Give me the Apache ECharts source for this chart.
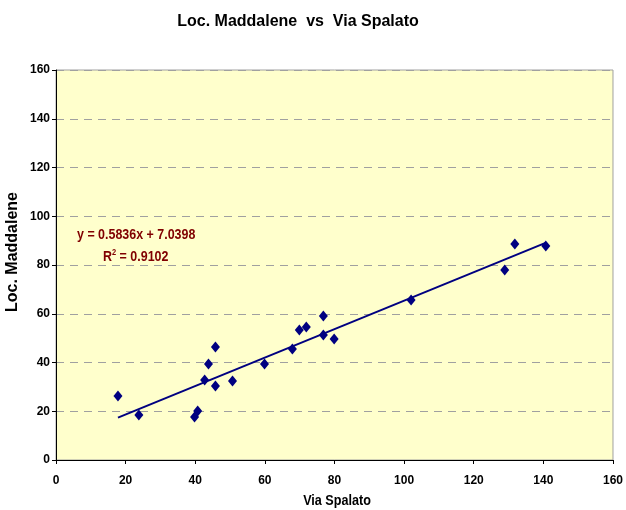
<!DOCTYPE html>
<html>
<head>
<meta charset="utf-8">
<script src="https://cdn.jsdelivr.net/npm/echarts@6/dist/echarts.min.js"></script>
<style>html,body{margin:0;padding:0;background:#fff}#c{width:626px;height:510px}</style>
</head>
<body>
<div id="c"></div>
<script>
var viaSpalato = [17.8, 23.8, 39.8, 40.7, 42.7, 43.8, 45.8, 45.8, 50.7, 59.9, 67.9, 69.9, 71.9, 76.8, 76.8, 79.9, 102.0, 128.9, 131.8, 140.7];
var locMaddalene = [26.3, 18.5, 17.6, 20.1, 32.8, 39.4, 46.4, 30.4, 32.4, 39.4, 45.5, 53.3, 54.6, 59.1, 51.3, 49.6, 65.6, 77.9, 88.6, 87.8];
var trendX = [17.8, 140.8];
var trendY = [17.4, 89.2];
var equationText = 'y = 0.5836x + 7.0398';
var r2Text = '0.9102';
var titleText = 'Loc. Maddalene  vs  Via Spalato';
var xName = 'Via Spalato';
var yName = 'Loc. Maddalene';

var FONT = '"Liberation Sans", Arial, sans-serif';
var points = viaSpalato.map(function (x, i) { return [x, locMaddalene[i]]; });
var trend = trendX.map(function (x, i) { return [x, trendY[i]]; });

var chart = echarts.init(document.getElementById('c'), null, {renderer: 'canvas'});
chart.setOption({
  animation: false,
  backgroundColor: '#ffffff',
  grid: {
    left: 56, right: 10, top: 70, bottom: 50, show: true,
    backgroundColor: '#FFFFCC', borderColor: '#A0A0A0', borderWidth: 1
  },
  xAxis: {
    type: 'value', min: 0, max: 160, interval: 20,
    axisLine: {show: true, onZero: false, lineStyle: {color: '#000', width: 1}},
    axisTick: {show: true, inside: false, length: 4, lineStyle: {color: '#000'}},
    axisLabel: {fontFamily: FONT, fontSize: 12, fontWeight: 'bold', color: '#000', margin: 15},
    splitLine: {show: false}
  },
  yAxis: {
    type: 'value', min: 0, max: 160, interval: 20,
    axisLine: {show: true, onZero: false, lineStyle: {color: '#000', width: 1}},
    axisTick: {show: true, inside: false, length: 4, lineStyle: {color: '#000'}},
    axisLabel: {fontFamily: FONT, fontSize: 12, fontWeight: 'bold', color: '#000', margin: 6},
    splitLine: {show: true, lineStyle: {color: '#A0A0A0', type: [8, 6], width: 1}}
  },
  series: [
    {
      type: 'line', data: trend, symbol: 'none', silent: true,
      lineStyle: {color: '#000080', width: 2}, z: 2
    },
    {
      type: 'scatter', data: points, symbol: 'diamond', symbolSize: [9, 11],
      itemStyle: {color: '#000080', opacity: 1}, z: 3
    }
  ],
  graphic: [
    {
      type: 'text', x: 298, y: 22,
      style: {text: titleText, fontFamily: FONT, fontSize: 16, fontWeight: 'bold', fill: '#000', align: 'center', verticalAlign: 'middle'}
    },
    {
      type: 'text', x: 13, y: 252, rotation: Math.PI / 2,
      style: {text: yName, fontFamily: FONT, fontSize: 16, fontWeight: 'bold', fill: '#000', align: 'center', verticalAlign: 'middle'}
    },
    {
      type: 'text', x: 337, y: 501, scaleX: 0.9,
      style: {text: xName, fontFamily: FONT, fontSize: 14, fontWeight: 'bold', fill: '#000', align: 'center', verticalAlign: 'middle'}
    },
    {
      type: 'text', x: 77, y: 235, scaleX: 0.83,
      style: {text: equationText, fontFamily: FONT, fontSize: 15, fontWeight: 'bold', fill: '#800000', verticalAlign: 'middle'}
    },
    {
      type: 'text', x: 103, y: 264, scaleX: 0.83,
      style: {
        text: '{b|R}{s|2}{b| = ' + r2Text + '}',
        verticalAlign: 'bottom',
        rich: {
          b: {fontFamily: FONT, fontSize: 15, fontWeight: 'bold', fill: '#800000', color: '#800000', verticalAlign: 'bottom'},
          s: {fontFamily: FONT, fontSize: 9, fontWeight: 'bold', fill: '#800000', color: '#800000', verticalAlign: 'top', padding: [0, 0, 7, 0]}
        }
      }
    }
  ]
});
</script>
</body>
</html>
